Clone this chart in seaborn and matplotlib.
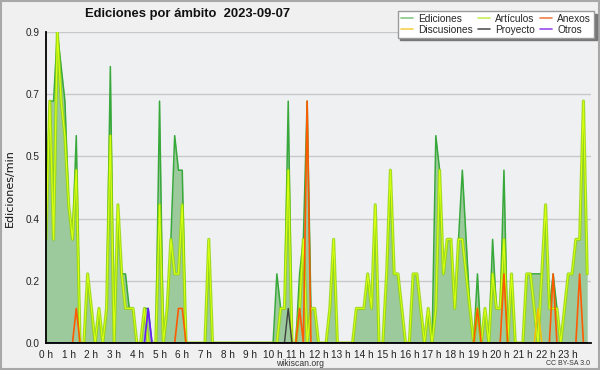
import numpy as np
import pandas as pd
import matplotlib
matplotlib.use("Agg")
import matplotlib.pyplot as plt
import seaborn as sns
from matplotlib.lines import Line2D
from matplotlib.patches import Rectangle
from matplotlib.ticker import MultipleLocator, FixedLocator, FuncFormatter

# ---- data: edits per minute, one value per 10-minute bin (144 bins) ----
ediciones = [
    0.4, 0.7, 0.7, 0.9, 0.8, 0.7, 0.4, 0.3, 0.6, 0, 0, 0.2,
    0.1, 0, 0.1, 0, 0.1, 0.8, 0, 0.4, 0.2, 0.2, 0.1, 0.1,
    0, 0, 0.1, 0.1, 0, 0, 0.7, 0, 0.1, 0.3, 0.6, 0.5,
    0.5, 0, 0, 0, 0, 0, 0, 0.3, 0, 0, 0, 0,
    0, 0, 0, 0, 0, 0, 0, 0, 0, 0, 0, 0,
    0, 0.2, 0.1, 0.1, 0.7, 0, 0, 0.2, 0.3, 0.7, 0.1, 0.1,
    0, 0, 0, 0.1, 0.3, 0, 0, 0, 0, 0, 0.1, 0.1,
    0.1, 0.2, 0.1, 0.4, 0, 0, 0.2, 0.5, 0.2, 0.2, 0.1, 0,
    0, 0.2, 0.2, 0.1, 0, 0.1, 0, 0.6, 0.5, 0.2, 0.3, 0.3,
    0.1, 0.3, 0.5, 0.3, 0.1, 0, 0.2, 0, 0.1, 0, 0.3, 0.1,
    0.1, 0.5, 0, 0.2, 0, 0, 0, 0.2, 0.2, 0.2, 0.2, 0.2,
    0.4, 0.1, 0.2, 0.1, 0, 0.1, 0.2, 0.2, 0.3, 0.3, 0.7, 0.2,
]
articulos = [
    0.3, 0.7, 0.3, 0.9, 0.7, 0.6, 0.4, 0.3, 0.5, 0, 0, 0.2,
    0.1, 0, 0.1, 0, 0.1, 0.6, 0, 0.4, 0.2, 0.1, 0.1, 0.1,
    0, 0, 0.1, 0, 0, 0, 0.4, 0, 0.1, 0.3, 0.2, 0.2,
    0.4, 0, 0, 0, 0, 0, 0, 0.3, 0, 0, 0, 0,
    0, 0, 0, 0, 0, 0, 0, 0, 0, 0, 0, 0,
    0, 0, 0.1, 0.1, 0.5, 0, 0, 0.1, 0.3, 0, 0.1, 0.1,
    0, 0, 0, 0.1, 0.3, 0, 0, 0, 0, 0, 0.1, 0.1,
    0.1, 0.2, 0.1, 0.4, 0, 0, 0.2, 0.5, 0.2, 0.2, 0.1, 0,
    0, 0.2, 0.2, 0.1, 0, 0.1, 0, 0.1, 0.5, 0.2, 0.3, 0.3,
    0.1, 0.3, 0.3, 0.2, 0.1, 0, 0.1, 0, 0.1, 0, 0.2, 0.1,
    0.1, 0.3, 0, 0.2, 0, 0, 0, 0.2, 0.2, 0.1, 0, 0.2,
    0.4, 0.1, 0.1, 0.1, 0, 0.1, 0.2, 0.2, 0.3, 0.3, 0.7, 0.2,
]
anexos = [
    0, 0, 0, 0, 0, 0, 0, 0, 0.1, 0, 0, 0,
    0, 0, 0, 0, 0, 0, 0, 0, 0, 0, 0, 0,
    0, 0, 0, 0, 0, 0, 0, 0, 0, 0, 0, 0.1,
    0.1, 0, 0, 0, 0, 0, 0, 0, 0, 0, 0, 0,
    0, 0, 0, 0, 0, 0, 0, 0, 0, 0, 0, 0,
    0, 0, 0, 0, 0, 0, 0, 0.1, 0, 0.7, 0, 0,
    0, 0, 0, 0, 0, 0, 0, 0, 0, 0, 0, 0,
    0, 0, 0, 0, 0, 0, 0, 0, 0, 0, 0, 0,
    0, 0, 0, 0, 0, 0, 0, 0, 0, 0, 0, 0,
    0, 0, 0, 0, 0, 0, 0.1, 0, 0, 0, 0, 0,
    0, 0.2, 0, 0, 0, 0, 0, 0, 0, 0, 0, 0,
    0, 0, 0.2, 0, 0, 0, 0, 0, 0, 0.2, 0, 0,
]
discusiones = [
    0, 0, 0, 0, 0, 0, 0, 0, 0, 0, 0, 0,
    0, 0, 0, 0, 0, 0, 0, 0, 0, 0, 0, 0,
    0, 0, 0, 0, 0, 0, 0, 0, 0, 0, 0, 0,
    0, 0, 0, 0, 0, 0, 0, 0, 0, 0, 0, 0,
    0, 0, 0, 0, 0, 0, 0, 0, 0, 0, 0, 0,
    0, 0, 0, 0, 0, 0, 0, 0, 0, 0, 0, 0,
    0, 0, 0, 0, 0, 0, 0, 0, 0, 0, 0, 0,
    0, 0, 0, 0, 0, 0, 0, 0, 0, 0, 0, 0,
    0, 0, 0, 0, 0, 0, 0, 0, 0, 0, 0, 0,
    0, 0, 0, 0, 0, 0, 0, 0, 0, 0, 0, 0,
    0, 0, 0, 0, 0, 0, 0, 0, 0, 0, 0.1, 0,
    0, 0, 0, 0, 0, 0, 0, 0, 0, 0, 0, 0,
]
proyecto = [
    0, 0, 0, 0, 0, 0, 0, 0, 0, 0, 0, 0,
    0, 0, 0, 0, 0, 0, 0, 0, 0, 0, 0, 0,
    0, 0, 0, 0, 0, 0, 0, 0, 0, 0, 0, 0,
    0, 0, 0, 0, 0, 0, 0, 0, 0, 0, 0, 0,
    0, 0, 0, 0, 0, 0, 0, 0, 0, 0, 0, 0,
    0, 0, 0, 0, 0.1, 0, 0, 0, 0, 0, 0, 0,
    0, 0, 0, 0, 0, 0, 0, 0, 0, 0, 0, 0,
    0, 0, 0, 0, 0, 0, 0, 0, 0, 0, 0, 0,
    0, 0, 0, 0, 0, 0, 0, 0, 0, 0, 0, 0,
    0, 0, 0, 0, 0, 0, 0, 0, 0, 0, 0, 0,
    0, 0, 0, 0, 0, 0, 0, 0, 0, 0, 0, 0,
    0, 0, 0, 0, 0, 0, 0, 0, 0, 0, 0, 0,
]
otros = [
    0, 0, 0, 0, 0, 0, 0, 0, 0, 0, 0, 0,
    0, 0, 0, 0, 0, 0, 0, 0, 0, 0, 0, 0,
    0, 0, 0, 0.1, 0, 0, 0, 0, 0, 0, 0, 0,
    0, 0, 0, 0, 0, 0, 0, 0, 0, 0, 0, 0,
    0, 0, 0, 0, 0, 0, 0, 0, 0, 0, 0, 0,
    0, 0, 0, 0, 0, 0, 0, 0, 0, 0, 0, 0,
    0, 0, 0, 0, 0, 0, 0, 0, 0, 0, 0, 0,
    0, 0, 0, 0, 0, 0, 0, 0, 0, 0, 0, 0,
    0, 0, 0, 0, 0, 0, 0, 0, 0, 0, 0, 0,
    0, 0, 0, 0, 0, 0, 0, 0, 0, 0, 0, 0,
    0, 0, 0, 0, 0, 0, 0, 0, 0, 0, 0, 0,
    0, 0, 0, 0, 0, 0, 0, 0, 0, 0, 0, 0,
]
hour_labels = [f"{h} h" for h in range(24)]
y_ticks = [0.0, 0.18, 0.36, 0.54, 0.72, 0.9]

title = "Ediciones por ámbito  2023-09-07"
ylabel = "Ediciones/min"

# ---- build table ----
hora = np.arange(len(ediciones)) / 6.0
df = pd.DataFrame({
    "hora": hora,
    "Ediciones": ediciones,
    "Artículos": articulos,
    "Anexos": anexos,
    "Discusiones": discusiones,
    "Proyecto": proyecto,
    "Otros": otros,
})

sns.set_style("white")
plt.rcParams["font.family"] = ["DejaVu Sans"]
SANS = ["Liberation Sans", "DejaVu Sans"]

W, H = 600, 370
fig = plt.figure(figsize=(6, 3.7), dpi=100, facecolor="#f0f0f0")
L, R, T, B = 46, 591, 32, 343
ax = fig.add_axes([L / W, 1 - B / H, (R - L) / W, (B - T) / H])
ax.set_facecolor("#eef0f2")

# fill under total
ax.fill_between(df["hora"], 0, df["Ediciones"], color="#9dca9d", lw=0, zorder=1)
sns.lineplot(data=df, x="hora", y="Ediciones", ax=ax, color="#37a83a", lw=1.1,
             zorder=3, legend=False)
# Artículos with soft glow
sns.lineplot(data=df, x="hora", y="Artículos", ax=ax, color="#8fd400", lw=2.3,
             alpha=0.75, zorder=4, legend=False)
sns.lineplot(data=df, x="hora", y="Artículos", ax=ax, color="#d8ff10", lw=0.9,
             zorder=5, legend=False)
sns.lineplot(data=df, x="hora", y="Discusiones", ax=ax, color="#f2c200", lw=1.1,
             zorder=6, legend=False)
sns.lineplot(data=df, x="hora", y="Proyecto", ax=ax, color="#404040", lw=1.0,
             zorder=6, legend=False)
sns.lineplot(data=df, x="hora", y="Anexos", ax=ax, color="#ff5a00", lw=1.2,
             zorder=7, legend=False)
sns.lineplot(data=df, x="hora", y="Otros", ax=ax, color="#6a1cff", lw=1.2,
             zorder=7, legend=False)

ax.set_xlim(0, 24)
ax.set_ylim(0, 0.9)

ax.yaxis.set_major_locator(FixedLocator(y_ticks))
ax.yaxis.set_major_formatter(FuncFormatter(lambda v, p: f"{v:.1f}"))
ax.yaxis.set_minor_locator(MultipleLocator(0.045))
ax.xaxis.set_major_locator(FixedLocator(list(range(24))))
ax.set_xticklabels(hour_labels)
ax.xaxis.set_minor_locator(MultipleLocator(1 / 6))

ax.grid(axis="y", which="major", color="#c8c8c8", lw=1.0, zorder=0)
ax.set_axisbelow(True)

for s in ["top", "right"]:
    ax.spines[s].set_visible(False)
for s in ["left", "bottom"]:
    ax.spines[s].set_color("black")
    ax.spines[s].set_linewidth(1.3)
    ax.spines[s].set_zorder(10)

ax.tick_params(axis="both", which="major", direction="out", length=4.5, width=1,
               color="black", labelsize=7.2, pad=0.3, labelcolor="#222222")
ax.tick_params(axis="both", which="minor", direction="out", length=3.5, width=1,
               color="black")
for lab in ax.get_xticklabels() + ax.get_yticklabels():
    lab.set_family(SANS)
ax.set_xlabel("")
ax.set_ylabel("")

fig.text(10 / W, 1 - 188 / H, ylabel, rotation=90, ha="center", va="center",
         fontsize=8, color="#111111")
fig.text(85 / W, 1 - 14 / H, title, ha="left", va="center", fontsize=9.4,
         fontweight="bold", family=SANS, color="#111111")
fig.text(300 / W, 1 - 363.5 / H, "wikiscan.org", ha="center", va="center",
         fontsize=6.2, family=SANS, color="#333333")
fig.text(590 / W, 1 - 363.5 / H, "CC BY-SA 3.0", ha="right", va="center",
         fontsize=5, family=SANS, color="#333333")

# legend
handles = [
    Line2D([], [], color="#86c886", lw=1.2, label="Ediciones"),
    Line2D([], [], color="#f5d24a", lw=1.2, label="Discusiones"),
    Line2D([], [], color="#c8ec5a", lw=1.2, label="Artículos"),
    Line2D([], [], color="#555555", lw=1.2, label="Proyecto"),
    Line2D([], [], color="#ee7f45", lw=1.2, label="Anexos"),
    Line2D([], [], color="#9a4cf0", lw=1.2, label="Otros"),
]
leg = fig.legend(handles=handles, ncol=3, loc="upper right",
                 bbox_to_anchor=(594 / W, 1 - 11 / H),
                 prop={"family": SANS, "size": 7.3},
                 frameon=True, fancybox=False, shadow={"color": "#777777", "alpha": 1},
                 edgecolor="#9a9a9a", framealpha=1, borderpad=0.3,
                 handlelength=1.2, handletextpad=0.5, columnspacing=0.5,
                 labelspacing=0.05, borderaxespad=0)
leg.get_frame().set_linewidth(1.0)

# figure border
fig.patches.append(Rectangle((0.001, 0.002), 0.997, 0.996, transform=fig.transFigure,
                             fill=False, edgecolor="#a8a8a8", lw=1.5))

fig.savefig("out.png", dpi=100, facecolor=fig.get_facecolor())
